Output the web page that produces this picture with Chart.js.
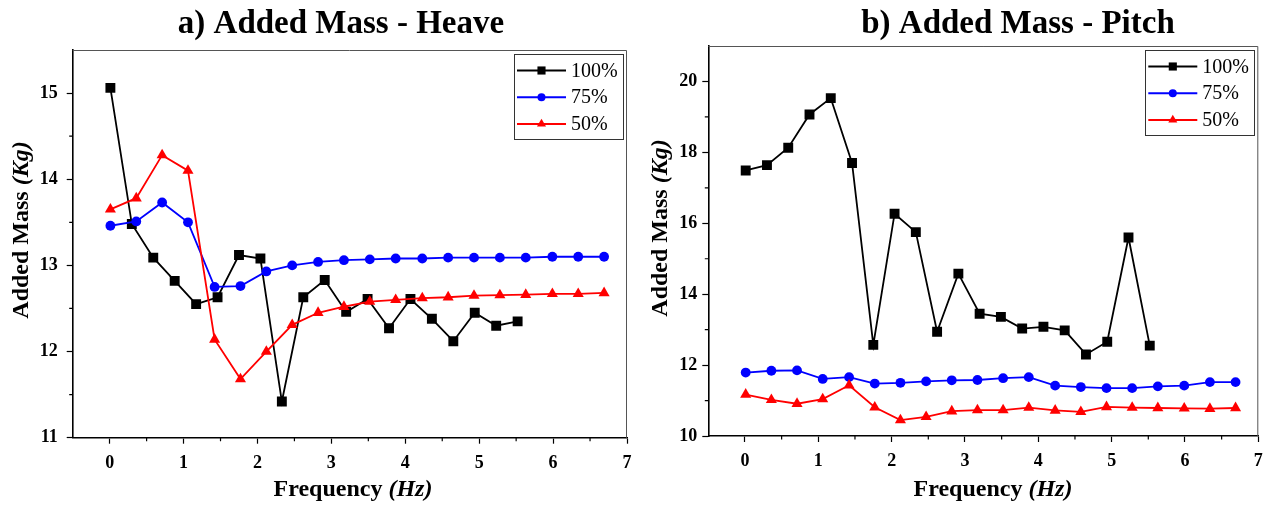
<!DOCTYPE html>
<html><head><meta charset="utf-8">
<script src="https://cdn.jsdelivr.net/npm/chart.js@4/dist/chart.umd.min.js"></script>
<style>
html,body{margin:0;padding:0;background:#fff;overflow:hidden}
#wrap{position:relative;width:1267px;height:506px;background:#fff;overflow:hidden}
canvas{position:absolute;top:0}
#cA{left:0}
#cB{left:640px}
</style></head><body>
<div id="wrap"><canvas id="cA" width="660" height="506"></canvas><canvas id="cB" width="660" height="506"></canvas></div>
<script>
// ---------- data ----------
const seriesNames = ['100%', '75%', '50%'];
const freq100 = [0.01,0.30,0.59,0.88,1.17,1.46,1.75,2.04,2.33,2.62,2.91,3.20,3.49,3.78,4.07,4.36,4.65,4.94,5.23,5.52];
const freqPartial = [0.01,0.36,0.71,1.06,1.42,1.77,2.12,2.47,2.82,3.17,3.52,3.87,4.23,4.58,4.93,5.28,5.63,5.99,6.34,6.69];

const heave100 = [15.06,13.48,13.09,12.82,12.55,12.63,13.12,13.08,11.42,12.63,12.83,12.46,12.61,12.27,12.61,12.38,12.12,12.45,12.30,12.35];
const heave75  = [13.46,13.51,13.73,13.50,12.75,12.76,12.93,13.00,13.04,13.06,13.07,13.08,13.08,13.09,13.09,13.09,13.09,13.10,13.10,13.10];
const heave50  = [13.65,13.78,14.28,14.10,12.14,11.68,12.00,12.31,12.45,12.52,12.58,12.60,12.62,12.63,12.65,12.655,12.66,12.67,12.67,12.68];

const pitch100 = [17.49,17.64,18.13,19.07,19.53,17.70,12.57,16.27,15.75,12.94,14.58,13.45,13.36,13.03,13.08,12.98,12.30,12.66,15.60,12.55];
const pitch75  = [11.79,11.84,11.85,11.61,11.66,11.48,11.50,11.54,11.57,11.58,11.63,11.66,11.42,11.38,11.35,11.35,11.40,11.42,11.52,11.52];
const pitch50  = [11.17,11.02,10.91,11.04,11.43,10.81,10.45,10.54,10.70,10.73,10.73,10.80,10.72,10.68,10.82,10.80,10.79,10.78,10.77,10.79];

const xTickValues = [0,1,2,3,4,5,6,7];
const heaveTickValues = [11,12,13,14,15];
const pitchTickValues = [10,12,14,16,18,20];
const titles = ['a) Added Mass - Heave', 'b) Added Mass - Pitch'];

// ---------- helpers ----------
const SERIF = '"Liberation Serif", "Times New Roman", Times, serif';
const COLORS = ['#000000', '#0000ff', '#ff0000'];
const STYLES = ['rect', 'circle', 'triangle'];
const RADII = [7, 4.9, 6.4];

function mids(arr) {
  const out = [];
  for (let i = 0; i < arr.length - 1; i++) out.push((arr[i] + arr[i + 1]) / 2);
  return out;
}

function makeDataset(i, xs, ys) {
  return {
    label: seriesNames[i],
    data: xs.map((x, k) => ({ x: x, y: ys[k] })),
    borderColor: COLORS[i],
    backgroundColor: COLORS[i],
    pointBackgroundColor: COLORS[i],
    pointBorderColor: COLORS[i],
    pointBorderWidth: 0,
    pointStyle: STYLES[i],
    pointRadius: RADII[i],
    pointHoverRadius: RADII[i],
    borderWidth: 1.8,
    tension: 0,
    fill: false,
    order: 3 - i
  };
}

function drawRich(ctx, parts, x, y) {
  let total = 0;
  const w = parts.map(p => { ctx.font = p.font; const m = ctx.measureText(p.text).width; total += m; return m; });
  let cx = x - total / 2;
  ctx.textAlign = 'left';
  parts.forEach((p, i) => { ctx.font = p.font; ctx.fillText(p.text, cx, y); cx += w[i]; });
}

function marker(ctx, style, x, y, r, color) {
  ctx.fillStyle = color;
  ctx.beginPath();
  if (style === 'rect') {
    const s = r * Math.SQRT1_2;
    ctx.rect(x - s, y - s, 2 * s, 2 * s);
  } else if (style === 'circle') {
    ctx.arc(x, y, r, 0, Math.PI * 2);
  } else {
    ctx.moveTo(x, y - r);
    ctx.lineTo(x + r * Math.sin(2 * Math.PI / 3), y + r / 2);
    ctx.lineTo(x - r * Math.sin(2 * Math.PI / 3), y + r / 2);
    ctx.closePath();
  }
  ctx.fill();
}

const decorPlugin = {
  id: 'decor',
  afterDraw(chart, args, o) {
    const ctx = chart.ctx, ca = chart.chartArea;
    const xs = chart.scales.x, ys = chart.scales.y;
    ctx.save();
    // top/right frame
    ctx.strokeStyle = '#555';
    ctx.lineWidth = 1;
    ctx.beginPath();
    ctx.moveTo(ca.left, ca.top + 0.5);
    ctx.lineTo(ca.right - 0.5, ca.top + 0.5);
    ctx.lineTo(ca.right - 0.5, ca.bottom);
    ctx.stroke();
    // minor ticks
    ctx.strokeStyle = '#000';
    ctx.lineWidth = 1.2;
    ctx.beginPath();
    o.xMinor.forEach(v => {
      const px = xs.getPixelForValue(v);
      ctx.moveTo(px, ca.bottom); ctx.lineTo(px, ca.bottom + 3.5);
    });
    o.yMinor.forEach(v => {
      const py = ys.getPixelForValue(v);
      ctx.moveTo(ca.left - 3.5, py); ctx.lineTo(ca.left, py);
    });
    ctx.stroke();
    // title
    ctx.fillStyle = '#000';
    ctx.textBaseline = 'alphabetic';
    ctx.textAlign = 'center';
    ctx.font = 'bold 33px ' + SERIF;
    ctx.fillText(o.title, o.titleX, 33);
    // x axis title
    drawRich(ctx, [
      { text: 'Frequency ', font: 'bold 24px ' + SERIF },
      { text: '(Hz)', font: 'italic bold 24px ' + SERIF }
    ], o.xTitleX, 496);
    // y axis title
    ctx.save();
    ctx.translate(o.yTitleX, o.yTitleY);
    ctx.rotate(-Math.PI / 2);
    drawRich(ctx, [
      { text: 'Added Mass ', font: 'bold 24px ' + SERIF },
      { text: '(Kg)', font: 'italic bold 24px ' + SERIF }
    ], 0, 0);
    ctx.restore();
    // legend
    const bw = 109, bh = 85;
    const bx = ca.right - 4 - bw, by = ca.top + 4;
    ctx.strokeStyle = '#333';
    ctx.lineWidth = 1;
    ctx.strokeRect(Math.round(bx) + 0.5, Math.round(by) + 0.5, bw, bh);
    chart.data.datasets.forEach((d, i) => {
      const yy = by + 16.5 + i * 26.7;
      ctx.strokeStyle = d.borderColor;
      ctx.lineWidth = 2;
      ctx.beginPath();
      ctx.moveTo(bx + 3, yy); ctx.lineTo(bx + 52, yy);
      ctx.stroke();
      marker(ctx, d.pointStyle, bx + 27.5, yy, d.pointRadius * 0.82, d.backgroundColor);
      ctx.fillStyle = '#000';
      ctx.font = '20px ' + SERIF;
      ctx.textAlign = 'left';
      ctx.textBaseline = 'middle';
      ctx.fillText(d.label, bx + 57, yy + 1);
    });
    ctx.restore();
  }
};

function buildChart(canvasId, cfg) {
  const tickFont = { family: SERIF, size: 18, weight: 'bold' };
  return new Chart(document.getElementById(canvasId), {
    type: 'line',
    data: { datasets: cfg.datasets },
    options: {
      responsive: false,
      animation: false,
      events: [],
      layout: { padding: { left: 0, top: cfg.top, right: cfg.right, bottom: 0 } },
      plugins: {
        legend: { display: false },
        tooltip: { enabled: false },
        title: { display: false },
        decor: cfg.decor
      },
      scales: {
        x: {
          type: 'linear',
          min: -0.5, max: 7,
          afterBuildTicks: s => { s.ticks = xTickValues.map(v => ({ value: v })); },
          afterFit: s => { s.height = cfg.xHeight; },
          ticks: { font: tickFont, color: '#000', padding: cfg.xPad, maxRotation: 0, autoSkip: false },
          grid: { display: true, drawOnChartArea: false, drawTicks: true, tickLength: 6, tickColor: '#000', tickWidth: 1.2 },
          border: { display: true, color: '#000', width: 1.6 }
        },
        y: {
          type: 'linear',
          min: cfg.yMin, max: cfg.yMax,
          afterBuildTicks: s => { s.ticks = cfg.yTicks.map(v => ({ value: v })); },
          afterFit: s => { s.width = cfg.yWidth; },
          ticks: { font: tickFont, color: '#000', padding: cfg.yPad, autoSkip: false },
          grid: { display: true, drawOnChartArea: false, drawTicks: true, tickLength: 6, tickColor: '#000', tickWidth: 1.2 },
          border: { display: true, color: '#000', width: 1.6 }
        }
      }
    },
    plugins: [decorPlugin]
  });
}

buildChart('cA', {
  datasets: [makeDataset(0, freq100, heave100), makeDataset(1, freqPartial, heave75), makeDataset(2, freqPartial, heave50)],
  top: 50, right: 33, xHeight: 68.3, yWidth: 72.7, xPad: 9, yPad: 9,
  yMin: 11, yMax: 15.5, yTicks: heaveTickValues,
  decor: {
    title: titles[0], titleX: 341, xTitleX: 353, yTitleX: 28, yTitleY: 230,
    xMinor: mids(xTickValues), yMinor: mids(heaveTickValues)
  }
});

buildChart('cB', {
  datasets: [makeDataset(0, freq100, pitch100), makeDataset(1, freqPartial, pitch75), makeDataset(2, freqPartial, pitch50)],
  top: 46, right: 41.7, xHeight: 70, yWidth: 68.3, xPad: 9, yPad: 5,
  yMin: 10, yMax: 21, yTicks: pitchTickValues,
  decor: {
    title: titles[1], titleX: 378, xTitleX: 353, yTitleX: 27, yTitleY: 228,
    xMinor: mids(xTickValues), yMinor: mids(pitchTickValues)
  }
});
</script>
</body></html>
